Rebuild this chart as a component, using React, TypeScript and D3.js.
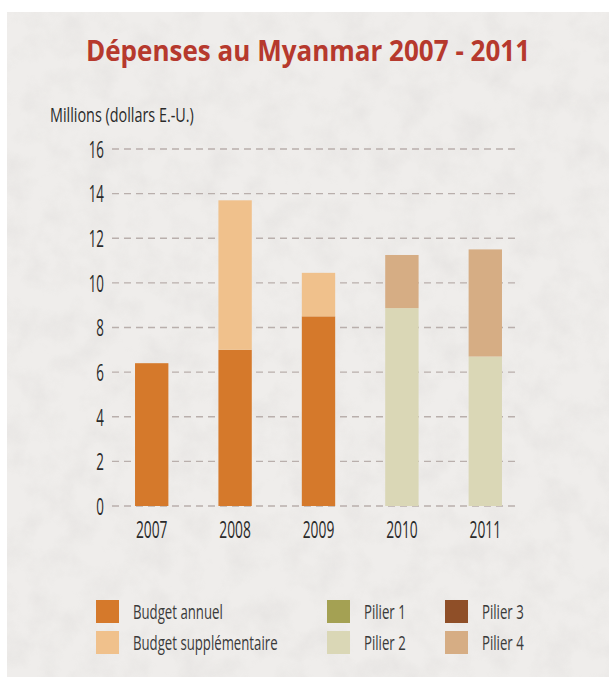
import React, { useRef, useEffect } from 'react';
import * as d3 from 'd3';

const years = ['2007', '2008', '2009', '2010', '2011'];
const budgetAnnuel = [6.4, 7.0, 8.5, 0, 0];
const budgetSupp = [0, 6.7, 1.95, 0, 0];
const pilier1 = [0, 0, 0, 0, 0];
const pilier2 = [0, 0, 0, 8.87, 6.7];
const pilier3 = [0, 0, 0, 0, 0];
const pilier4 = [0, 0, 0, 2.38, 4.8];
const yTicks = [0, 2, 4, 6, 8, 10, 12, 14, 16];

const seriesNames = ['Budget annuel', 'Budget supplémentaire', 'Pilier 1', 'Pilier 2', 'Pilier 3', 'Pilier 4'];
const seriesColors = ['#d5792b', '#f0c18c', '#a4a153', '#dad7b6', '#8f4f28', '#d6ad84'];

const W = 609;
const H = 681;
const font = '"Open Sans", "Noto Sans", sans-serif';
const narrow = 0.62; // squeeze to mimic a condensed face

export default function App() {
    const svgRef = useRef<SVGSVGElement>(null);

    useEffect(() => {
        if (!svgRef.current) return;
        const svg = d3.select(svgRef.current);
        svg.selectAll('*').remove();

        // paper background
        const defs = svg.append('defs');
        const filt = defs.append('filter').attr('id', 'paper').attr('x', 0).attr('y', 0).attr('width', 1).attr('height', 1);
        filt.append('feTurbulence').attr('type', 'fractalNoise').attr('baseFrequency', 0.035).attr('numOctaves', 4).attr('seed', 3);
        filt.append('feColorMatrix').attr('type', 'matrix')
            .attr('values', '0 0 0 0 0.55  0 0 0 0 0.53  0 0 0 0 0.52  0 0 0 -0.9 0.55');

        svg.append('rect').attr('width', W).attr('height', H).attr('fill', '#ffffff');
        svg.append('rect').attr('x', 7).attr('y', 12).attr('width', W - 7).attr('height', H - 16).attr('fill', '#efedeb');
        svg.append('rect').attr('x', 7).attr('y', 12).attr('width', W - 7).attr('height', H - 16)
            .attr('filter', 'url(#paper)').attr('opacity', 0.35);

        svg.append('text')
            .attr('transform', 'translate(308,61) scale(0.93,1)')
            .attr('text-anchor', 'middle')
            .attr('font-family', font)
            .attr('font-weight', 700)
            .attr('font-size', 28)
            .attr('fill', '#b6392d')
            .text('Dépenses au Myanmar 2007 - 2011');

        svg.append('text')
            .attr('transform', 'translate(50,122) scale(0.72,1)')
            .attr('font-family', font)
            .attr('font-size', 20)
            .attr('font-weight', 500)
            .attr('fill', '#2a2a2a')
            .text('Millions (dollars E.-U.)');

        const x = d3.scaleBand().domain(years).range([110, 527]).paddingInner(0.6).paddingOuter(0.3);
        const y = d3.scaleLinear().domain([0, 16]).range([506, 149]);

        const grid = svg.append('g');
        grid.selectAll('line').data(yTicks).enter().append('line')
            .attr('x1', 112).attr('x2', 518)
            .attr('y1', d => y(d)).attr('y2', d => y(d))
            .attr('stroke', '#b9afac').attr('stroke-width', 1.3)
            .attr('stroke-dasharray', '7 5');

        const yAxis = svg.append('g').attr('transform', 'translate(104,0)')
            .call(d3.axisLeft(y).tickValues(yTicks).tickSize(0).tickPadding(0));
        yAxis.select('.domain').remove();
        yAxis.selectAll('text')
            .attr('font-family', font).attr('font-size', 23).attr('font-weight', 500).attr('fill', '#2a2a2a')
            .attr('dy', '0.36em')
            .attr('transform', `scale(${narrow - 0.04},1)`);

        const xAxis = svg.append('g').attr('transform', 'translate(0,538)')
            .call(d3.axisBottom(x).tickSize(0).tickPadding(0));
        xAxis.select('.domain').remove();
        xAxis.selectAll('text')
            .attr('font-family', font).attr('font-size', 23).attr('font-weight', 500).attr('fill', '#2a2a2a')
            .attr('y', 0).attr('dy', 0)
            .attr('transform', `scale(${narrow - 0.02},1)`);

        const table = years.map((yr, i) => ({
            year: yr,
            s0: budgetAnnuel[i], s1: budgetSupp[i], s2: pilier1[i],
            s3: pilier2[i], s4: pilier3[i], s5: pilier4[i],
        }));
        const keys = ['s0', 's1', 's2', 's3', 's4', 's5'];
        const stacked = d3.stack<any>().keys(keys)(table);

        svg.append('g').selectAll('g').data(stacked).enter().append('g')
            .attr('fill', (d, i) => seriesColors[i])
            .selectAll('rect').data(d => d.filter(v => v[1] - v[0] > 0)).enter().append('rect')
            .attr('x', d => x(d.data.year)!)
            .attr('width', x.bandwidth())
            .attr('y', d => y(d[1]))
            .attr('height', d => y(d[0]) - y(d[1]));

        // legend
        const legendX = [96, 327, 445];
        const legendY = [600, 631];
        const legend = svg.append('g');
        seriesNames.forEach((name, i) => {
            const col = i < 2 ? 0 : i < 4 ? 1 : 2;
            const row = i % 2;
            const g = legend.append('g').attr('transform', `translate(${legendX[col]},${legendY[row]})`);
            g.append('rect').attr('width', 23).attr('height', 23).attr('fill', seriesColors[i]);
            g.append('text')
                .attr('transform', `translate(37,19) scale(${narrow + 0.04},1)`)
                .attr('font-family', font).attr('font-size', 20).attr('fill', '#3a3a3a')
                .text(name);
        });
    }, []);

    return <svg ref={svgRef} width={W} height={H} style={{ position: 'absolute', left: 0, top: 0 }} />;
}
